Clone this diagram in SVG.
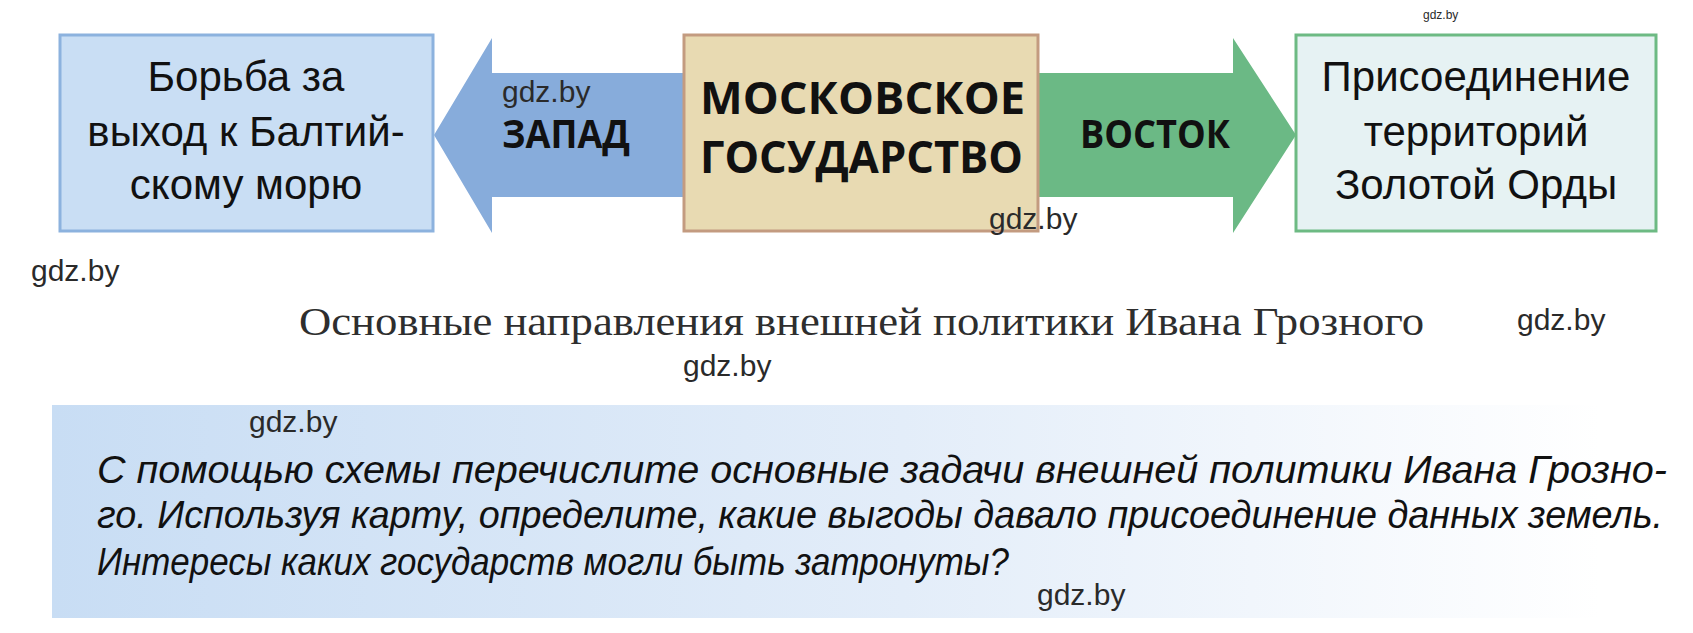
<svg xmlns="http://www.w3.org/2000/svg" width="1693" height="633" viewBox="0 0 1693 633">
<style>
.box{stroke-width:3}
.t{font-family:"Liberation Sans",Arial,sans-serif;font-size:42px;fill:#111;text-anchor:middle}
.b{font-family:"Open Sans","DejaVu Sans",sans-serif;font-weight:bold;fill:#111}
.wm{font-family:"Liberation Sans",Arial,sans-serif;fill:#2a2a2a}
.cap{font-family:"Liberation Serif","Times New Roman",serif;font-size:40px;fill:#2e2e2e}
.q{font-family:"Liberation Sans",Arial,sans-serif;font-style:italic;font-size:39px;fill:#111}
</style>
<defs>
<linearGradient id="pg" x1="52" y1="0" x2="1600" y2="0" gradientUnits="userSpaceOnUse">
<stop offset="0" stop-color="#c8ddf4"/>
<stop offset="0.55" stop-color="#e3edf9"/>
<stop offset="1" stop-color="#ffffff"/>
</linearGradient>
</defs>
<rect width="1693" height="633" fill="#fff"/>
<g id="connectors">
<polygon points="434,135 492,38 492,73 684,73 684,197 492,197 492,233" fill="#87acdb"/>
<polygon points="1038,73 1233,73 1233,38 1296,135 1233,233 1233,197 1038,197" fill="#6bb985"/>
<text class="b" x="502" y="148" font-size="40" textLength="128" lengthAdjust="spacingAndGlyphs">ЗАПАД</text>
<text class="b" x="1080" y="148" font-size="40" textLength="150" lengthAdjust="spacingAndGlyphs">ВОСТОК</text>
</g>
<g id="node-west">
<rect class="box" x="60" y="35" width="373" height="196" fill="#c9def4" stroke="#8cb2de"/>
<text class="t" x="246" y="91">Борьба за</text>
<text class="t" x="246" y="146">выход к Балтий-</text>
<text class="t" x="246" y="199">скому морю</text>
</g>
<g id="node-moscow">
<rect class="box" x="684" y="35" width="354" height="196" fill="#e8dab2" stroke="#c39b80"/>
<text class="b" x="700" y="114" font-size="44" textLength="325" lengthAdjust="spacingAndGlyphs">МОСКОВСКОЕ</text>
<text class="b" x="700" y="173" font-size="44" textLength="323" lengthAdjust="spacingAndGlyphs">ГОСУДАРСТВО</text>
</g>
<g id="node-east">
<rect class="box" x="1296" y="35" width="360" height="196" fill="#e6f2f3" stroke="#6dba83"/>
<text class="t" x="1476" y="91">Присоединение</text>
<text class="t" x="1476" y="146">территорий</text>
<text class="t" x="1476" y="199">Золотой Орды</text>
</g>
<text class="cap" x="299" y="335" textLength="1125" lengthAdjust="spacingAndGlyphs">Основные направления внешней политики Ивана Грозного</text>
<rect x="52" y="405" width="1641" height="213" fill="url(#pg)"/>
<g id="question">
<text class="q" x="97" y="483" textLength="1570" lengthAdjust="spacingAndGlyphs">С помощью схемы перечислите основные задачи внешней политики Ивана Грозно-</text>
<text class="q" x="97" y="528" textLength="1566" lengthAdjust="spacingAndGlyphs">го. Используя карту, определите, какие выгоды давало присоединение данных земель.</text>
<text class="q" x="97" y="575" textLength="912" lengthAdjust="spacingAndGlyphs">Интересы каких государств могли быть затронуты?</text>
</g>
<g id="watermarks">
<text class="wm" x="1423" y="19" style="font-size:12px">gdz.by</text>
<text class="wm" x="502" y="102" style="font-size:30px">gdz.by</text>
<text class="wm" x="989" y="229" style="font-size:30px">gdz.by</text>
<text class="wm" x="31" y="281" style="font-size:30px">gdz.by</text>
<text class="wm" x="1517" y="330" style="font-size:30px">gdz.by</text>
<text class="wm" x="683" y="376" style="font-size:30px">gdz.by</text>
<text class="wm" x="249" y="432" style="font-size:30px">gdz.by</text>
<text class="wm" x="1037" y="605" style="font-size:30px">gdz.by</text>
</g>
</svg>
